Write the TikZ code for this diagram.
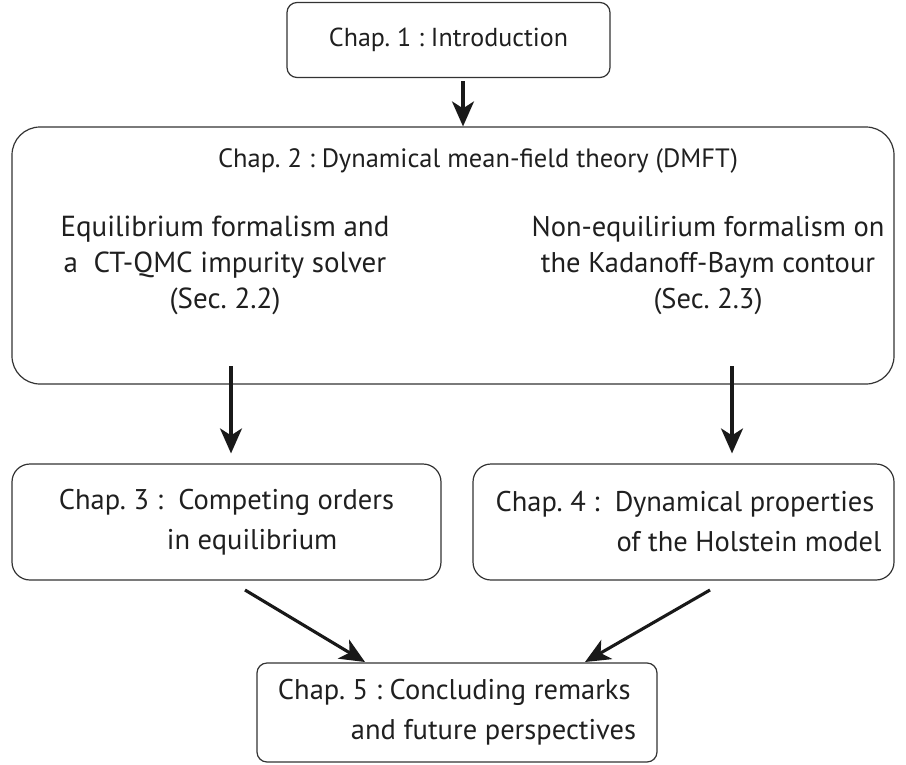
\documentclass[tikz,border=0pt]{standalone}
\usepackage{fontspec}
\setmainfont{PT Sans}
\usetikzlibrary{arrows.meta}

\begin{document}
\frenchspacing
\begin{tikzpicture}[x=1pt,y=-1pt]
\tikzstyle{every node}=[inner sep=0pt, font=\fontsize{28.5}{40}\selectfont, text=black!88]
\tikzstyle{chapbox}=[draw=black!80, line width=1.2pt, rounded corners=10pt]
\tikzstyle{arr}=[line width=3.1pt, draw=black!90, -{Stealth[length=25pt,width=22pt,inset=7pt]}]
\useasboundingbox (0,0) rectangle (906,764);
\node (chap1) [chapbox, minimum width=323pt, minimum height=75pt, font=\fontsize{26}{36}\selectfont] at (448.5,40) {Chap. 1 : Introduction};
\node (chap2) [chapbox, rounded corners=28pt, minimum width=882pt, minimum height=257pt] at (453,255.5) {};
\node (dmft) [font=\fontsize{26.5}{36}\selectfont] at (478,161) {Chap. 2 : Dynamical mean-field theory (DMFT)};
\node (eq) [align=center, font=\fontsize{29}{36}\selectfont] at (225,265) {Equilibrium formalism and\\a\ \ CT-QMC impurity solver\\(Sec. 2.2)};
\node (neq) [align=center, font=\fontsize{28.5}{36}\selectfont] at (708,265) {Non-equilirium formalism on\\the Kadanoff-Baym contour\\(Sec. 2.3)};
\node (chap3) [chapbox, rounded corners=18pt, minimum width=429pt, minimum height=116pt, align=left] at (226.5,522) {Chap. 3 :\ \ Competing orders\\\hspace*{108pt}in equilibrium};
\node (chap4) [chapbox, rounded corners=18pt, minimum width=421pt, minimum height=116pt, align=left] at (683.5,522) {\hspace*{10pt}Chap. 4 :\ \ Dynamical properties\\\hspace*{131pt}of the Holstein model};
\node (chap5) [chapbox, minimum width=400pt, minimum height=99pt, align=left] at (457,712.5) {Chap. 5 : Concluding remarks\\\hspace*{73pt}and future perspectives};
% arrows
\coordinate (a1) at (463,0);
\coordinate (a2) at (231,366);
\coordinate (a3) at (732,366);
\coordinate (a4s) at (245,590);
\coordinate (a4e) at (365,662);
\coordinate (a5s) at (710,590);
\coordinate (a5e) at (585,662);
\draw[arr, shorten <=3pt] (chap1.south -| a1) -- (chap2.north -| a1);
\draw[arr, shorten >=10pt] (a2) -- (chap3.north -| a2);
\draw[arr, shorten >=10pt] (a3) -- (chap4.north -| a3);
\draw[arr] (a4s) -- (a4e);
\draw[arr] (a5s) -- (a5e);
\end{tikzpicture}
\end{document}
